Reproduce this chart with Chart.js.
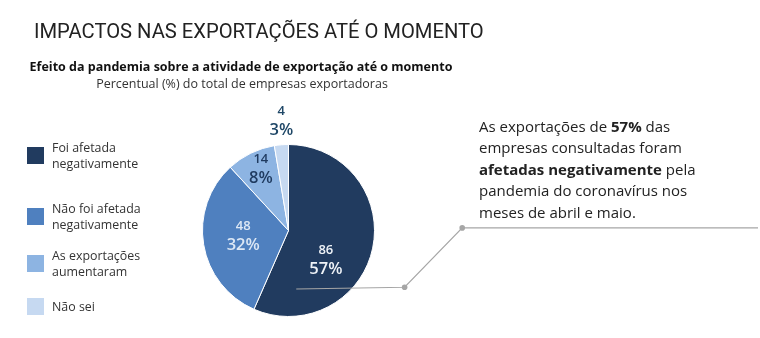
<!DOCTYPE html>
<html>
<head>
<meta charset="utf-8">
<script src="https://cdn.jsdelivr.net/npm/chart.js@4.4.1/dist/chart.umd.min.js"></script>
<style>
  html, body { margin: 0; padding: 0; background: #fff; }
  #wrap { position: relative; width: 760px; height: 338px; overflow: hidden; font-family: "Open Sans", sans-serif; color: #222; }
  #title { position: absolute; left: 34px; top: 19px; font-family: Roboto, sans-serif; font-size: 20.2px; color: #222; white-space: nowrap; }
  #sub1 { position: absolute; left: 0; width: 482px; top: 58px; text-align: center; font-size: 12.5px; font-weight: 700; color: #111; white-space: nowrap; }
  #sub2 { position: absolute; left: 0; width: 484px; top: 75px; text-align: center; font-size: 12.5px; color: #333; white-space: nowrap; }
  #note { position: absolute; left: 479px; top: 116px; font-size: 15px; line-height: 21.4px; color: #222; }
  #legend .item { position: absolute; left: 27px; }
  #legend .sw { position: absolute; left: 0; top: 0; width: 17px; height: 17px; }
  #legend .tx { position: absolute; left: 25px; font-size: 12.4px; line-height: 16px; color: #333; white-space: nowrap; }
  canvas { position: absolute; left: 0; top: 0; }
</style>
</head>
<body>
<div id="wrap">
  <canvas id="c" width="760" height="338"></canvas>
  <div id="title">IMPACTOS NAS EXPORTAÇÕES ATÉ O MOMENTO</div>
  <div id="sub1">Efeito da pandemia sobre a atividade de exportação até o momento</div>
  <div id="sub2">Percentual (%) do total de empresas exportadoras</div>
  <div id="note">As exportações de <b>57%</b> das<br>empresas consultadas foram<br><b>afetadas negativamente</b> pela<br>pandemia do coronavírus nos<br>meses de abril e maio.</div>
  <div id="legend"></div>
</div>
<script>
// data
var categories = [
  ['Foi afetada', 'negativamente'],
  ['Não foi afetada', 'negativamente'],
  ['As exportações', 'aumentaram'],
  ['Não sei']
];
var counts = [86, 48, 14, 4];
var percents = ['57%', '32%', '8%', '3%'];

// styles
var colors = ['#213b5f', '#4f80bf', '#8db4e2', '#c6d9f1'];
var textColors = ['#eef2f7', '#dce7f5', '#1f3a5f', '#1f4767'];
var labelRadius = [0.55, 0.53, 0.79, 1.28];
var labelAngleShift = [26, 3, 2, 1];
var legendTops = [147, 208, 255, 298];

// legend
var lg = document.getElementById('legend');
for (var i = 0; i < categories.length; ++i) {
  var it = document.createElement('div');
  it.className = 'item';
  it.style.top = legendTops[i] + 'px';
  it.innerHTML = '<div class="sw" style="background:' + colors[i] + '"></div>' +
    '<div class="tx" style="top:' + (8.5 - 8 * categories[i].length) + 'px">' + categories[i].join('<br>') + '</div>';
  lg.appendChild(it);
}

var sliceLabels = {
  id: 'sliceLabels',
  afterDatasetsDraw: function(chart) {
    var ctx = chart.ctx;
    var arcs = chart.getDatasetMeta(0).data;
    ctx.save();
    ctx.textAlign = 'center';
    ctx.textBaseline = 'middle';
    for (var i = 0; i < arcs.length; ++i) {
      var a = arcs[i];
      var mid = (a.startAngle + a.endAngle) / 2 + labelAngleShift[i] * Math.PI / 180;
      var r = a.outerRadius * labelRadius[i];
      var x = a.x + Math.cos(mid) * r;
      var y = a.y + Math.sin(mid) * r;
      ctx.fillStyle = textColors[i];
      ctx.font = '600 13px "Open Sans"';
      ctx.fillText(String(counts[i]), x, y - 9);
      ctx.font = '600 16.5px "Open Sans"';
      ctx.fillText(percents[i], x, y + 10);
    }

    // callout line
    var a0 = arcs[0];
    var R = a0.outerRadius;
    var p0 = [a0.x + 0.09 * R, a0.y + 0.68 * R];
    var p1 = [a0.x + 1.35 * R, a0.y + 0.66 * R];
    var p2 = [a0.x + 2.02 * R, a0.y - 0.03 * R];
    var p3 = [chart.width - 2, p2[1]];
    ctx.strokeStyle = '#a6a6a6';
    ctx.lineWidth = 1.2;
    ctx.beginPath();
    ctx.moveTo(p0[0], p0[1]);
    ctx.lineTo(p1[0], p1[1]);
    ctx.lineTo(p2[0], p2[1]);
    ctx.lineTo(p3[0], p3[1]);
    ctx.stroke();
    ctx.fillStyle = '#a6a6a6';
    [p1, p2].forEach(function(p) {
      ctx.beginPath();
      ctx.arc(p[0], p[1], 2.8, 0, Math.PI * 2);
      ctx.fill();
    });
    ctx.restore();
  }
};

var chart = new Chart(document.getElementById('c').getContext('2d'), {
  type: 'pie',
  data: {
    labels: categories,
    datasets: [{
      data: counts,
      backgroundColor: colors,
      borderColor: '#ffffff',
      borderWidth: 1
    }]
  },
  options: {
    responsive: false,
    animation: false,
    layout: { padding: { left: 202, top: 144, right: 385, bottom: 21 } },
    plugins: { legend: { display: false }, tooltip: { enabled: false } }
  },
  plugins: [sliceLabels]
});
</script>
</body>
</html>
